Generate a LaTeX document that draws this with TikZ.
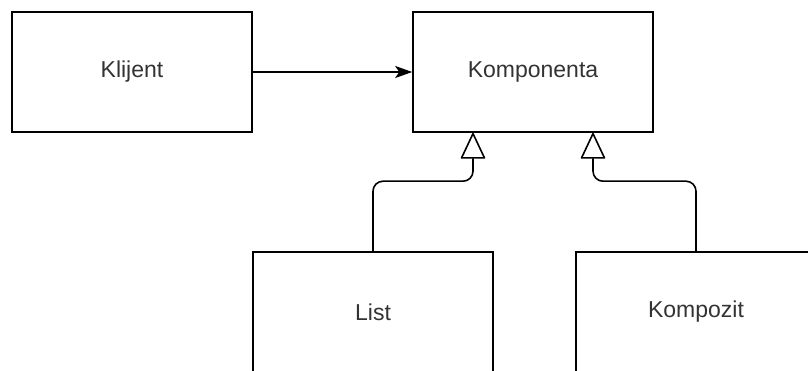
\documentclass[tikz,border=0pt]{standalone}
\usepackage{fontspec}
\setmainfont{Liberation Sans}
\usepackage{tikz}
\usetikzlibrary{arrows.meta,positioning}
\tikzset{
  >=Stealth,
  cls/.style = {rectangle, draw, line width=1.6pt, minimum width=240pt, minimum height=120pt,
                inner sep=0pt, text=black!80, font=\fontsize{23}{28}\selectfont},
  assoc/.style = {line width=1.6pt, -{Stealth[length=17pt, width=12pt, inset=4pt]}},
  inherit/.style = {line width=1.6pt, rounded corners=10pt,
                    -{Triangle[open, length=27pt, width=25pt, fill=white, round]}},
}

\begin{document}
\begin{tikzpicture}[x=1pt, y=-1pt]
  \clip (0,0) rectangle (808,371);
  \node[cls] (klijent) at (132,72) {Klijent};
  \node[cls] (komp) at (533,72) {Komponenta};
  \node[cls] (list) at (373,312) {List};
  \node[cls] (kompozit) at (696,312) {Kompozit};
  \path (komp.south) ++(-60,0) coordinate (inL);    % ulaz za List
  \path (komp.south) ++(60,0) coordinate (inK);     % ulaz za Kompozit
  \draw[assoc] (klijent) -- (komp);
  \draw[inherit] (list.north) -- ++(0,-70) -| (inL);
  \draw[inherit] (kompozit.north) -- ++(0,-70) -| (inK);
\end{tikzpicture}
\end{document}
